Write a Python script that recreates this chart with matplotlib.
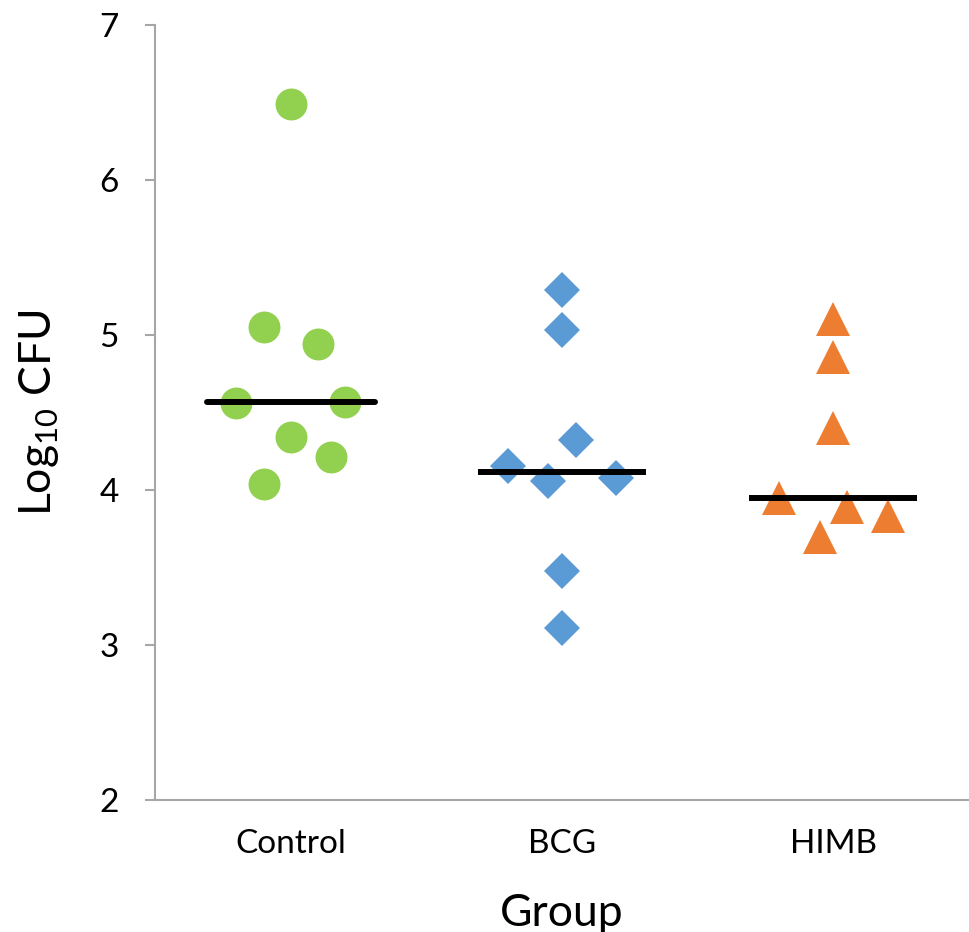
import matplotlib.pyplot as plt
import numpy as np

plt.rcParams['font.family'] = ['Lato', 'DejaVu Sans']
plt.rcParams['mathtext.fontset'] = 'custom'
plt.rcParams['mathtext.rm'] = 'Lato'

# data
groups = ["Control", "BCG", "HIMB"]

control_x = [0.0, -0.1, 0.1, -0.2, 0.2, 0.0, 0.15, -0.1]
control_y = [6.49, 5.05, 4.94, 4.56, 4.57, 4.34, 4.21, 4.04]

bcg_x = [0.0, 0.0, 0.05, -0.2, -0.05, 0.2, 0.0, 0.0]
bcg_y = [5.29, 5.03, 4.32, 4.155, 4.06, 4.08, 3.48, 3.11]

himb_x = [0.0, 0.0, 0.0, -0.2, 0.05, 0.2, -0.05]
himb_y = [5.10, 4.86, 4.40, 3.947, 3.89, 3.83, 3.70]

colors = ["#92D050", "#5B9BD5", "#ED7D31"]
markers = ["o", "D", "^"]
sizes = [23, 18, 25]

fig = plt.figure(figsize=(9.69, 9.32), dpi=100)
ax = fig.add_axes([0.16, 0.1416, 0.84, 0.8316])

offsets = [control_x, bcg_x, himb_x]
values = [control_y, bcg_y, himb_y]

for i, (dx, vals) in enumerate(zip(offsets, values)):
    xs = np.array(dx) + i + 1
    ax.plot(xs, vals, linestyle="none", marker=markers[i], ms=sizes[i],
            color=colors[i], markeredgewidth=0, zorder=2)
    med = np.median(vals)
    ax.plot([i + 1 - 0.31, i + 1 + 0.31], [med, med], color="black",
            lw=4.3, solid_capstyle="round" if i == 0 else "butt", zorder=3)

ax.set_xlim(0.5, 3.5)
ax.set_ylim(2, 7)
ax.set_yticks([2, 3, 4, 5, 6, 7])
ax.set_xticks([1, 2, 3])
ax.set_xticklabels(groups)

for s in ["top", "right"]:
    ax.spines[s].set_visible(False)
for s in ["left", "bottom"]:
    ax.spines[s].set_color("#A6A6A6")
    ax.spines[s].set_linewidth(1.5)

ax.tick_params(axis="y", length=7, width=1.5, color="#A6A6A6", labelsize=24, pad=19)
ax.tick_params(axis="x", length=0, labelsize=24, pad=21)

ax.set_xlabel("Group", fontsize=32, labelpad=24)
ax.set_ylabel(r"Log$_{\mathregular{10}}$ CFU", fontsize=32, labelpad=28)

fig.savefig("out.png", dpi=100)
